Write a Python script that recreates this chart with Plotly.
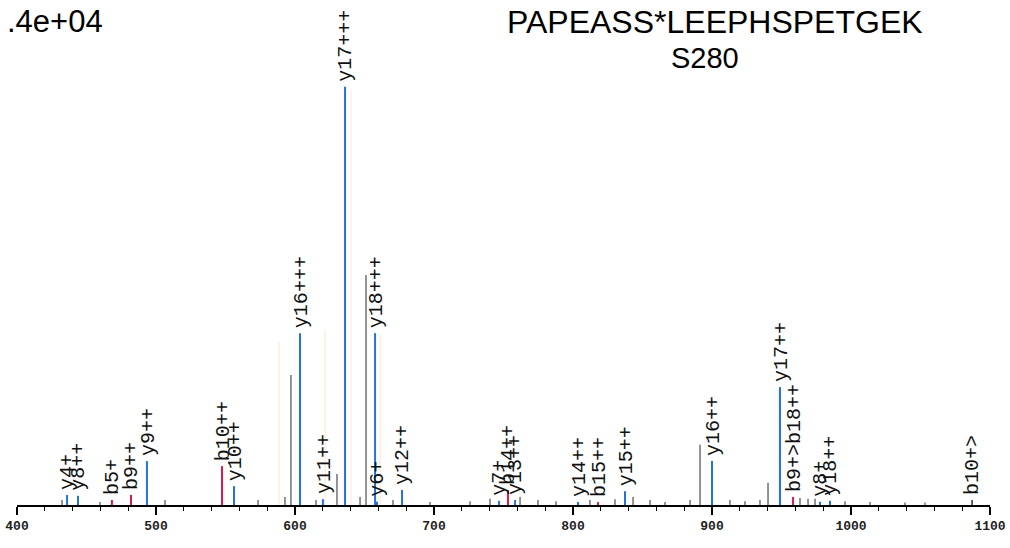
import plotly.graph_objects as go

# ---------------- data ----------------
# y-ions (blue)
y_mz = [436.0, 443.9, 493.5, 556.1, 603.6, 620.1, 636.0, 657.6, 659.0, 677.0,
        746.8, 758.3, 803.6, 837.4, 900.0, 948.9, 977.7, 984.9]
y_int = [2.4, 2.2, 10.5, 4.5, 41.1, 1.4, 100.0, 41.1, 0.8, 3.6,
         1.0, 1.2, 0.7, 3.3, 10.5, 28.2, 0.8, 1.0]
y_lab = ["y4+", "y8++", "y9++", "y10++", "y16+++", "y11++", "y17+++", "y18+++", "y6+", "y12++",
         "y7+", "y13++", "y14++", "y15++", "y16++", "y17++", "y8+", "y18++"]

# b-ions (red)
b_mz = [468.3, 482.0, 547.5, 753.2, 818.0, 958.3]
b_int = [1.2, 2.4, 9.3, 3.6, 0.7, 1.9]
b_lab = ["b5+", "b9++", "b10++", "b14++", "b15++", "b9+>b18++"]

# other labelled peak (dark)
o_mz = [1087.1]
o_int = [1.2]
o_lab = ["b10+>"]

# unassigned peaks (grey)
g_mz = [597.1, 630.2, 651.1, 891.4, 940.3,
        432.4, 459.7, 506.5, 573.4, 592.8, 615.1, 646.8, 670.5, 697.1, 725.9,
        740.3, 761.9, 774.8, 787.8, 812.2, 830.2, 843.2, 855.4, 866.2, 884.2,
        912.9, 923.7, 934.5, 963.3, 969.1, 974.1, 995.7, 1013.7, 1038.8, 1053.2]
g_int = [31.1, 7.4, 55.0, 14.4, 5.3,
         1.2, 0.7, 1.2, 1.2, 1.9, 1.2, 1.9, 1.2, 0.7, 0.9,
         1.5, 1.9, 1.2, 0.9, 1.2, 1.4, 1.9, 1.2, 0.7, 1.2,
         1.2, 0.9, 1.2, 1.7, 1.5, 1.5, 0.9, 0.7, 0.6, 0.6]

# faint neighbouring peaks (pale)
p_mz = [588.5, 621.6, 640.3, 661.2, 947.5]
p_int = [38.8, 41.9, 99.0, 40.7, 28.0]

scale_text = ".4e+04"
peptide = "PAPEASS*LEEPHSPETGEK"
site = "S280"
x_ticks = [400, 500, 600, 700, 800, 900, 1000, 1100]


def sticks(mz, inten):
    xs, ys = [], []
    for m, h in zip(mz, inten):
        xs += [m, m, None]
        ys += [0, h, None]
    return xs, ys


fig = go.Figure()

for mz, inten, color, width in [
    (p_mz, p_int, "#fdf0dc", 1.5),
    (g_mz, g_int, "#707070", 1.5),
    (o_mz, o_int, "#333333", 1.5),
    (y_mz, y_int, "#2472e0", 2),
    (b_mz, b_int, "#e0184a", 2),
]:
    xs, ys = sticks(mz, inten)
    fig.add_trace(go.Scatter(x=xs, y=ys, mode="lines",
                             line=dict(color=color, width=width),
                             hoverinfo="skip", showlegend=False, cliponaxis=False))

annos = []
for mz, inten, lab in [(y_mz, y_int, y_lab), (b_mz, b_int, b_lab), (o_mz, o_int, o_lab)]:
    for m, h, t in zip(mz, inten, lab):
        annos.append(dict(x=m, y=h, xref="x", yref="y", text=t, textangle=-90,
                          showarrow=False, xanchor="center", yanchor="bottom",
                          yshift=3, xshift=1,
                          font=dict(family="Liberation Mono", size=20, color="#111")))

annos.append(dict(x=-0.0125, y=1.05, xref="paper", yref="paper", text=scale_text,
                  showarrow=False, xanchor="left", yanchor="middle",
                  font=dict(family="Liberation Sans", size=31, color="#000")))
annos.append(dict(x=0.717, y=1.05, xref="paper", yref="paper", text=peptide,
                  showarrow=False, xanchor="center", yanchor="middle",
                  font=dict(family="Liberation Sans", size=32, color="#000")))
annos.append(dict(x=0.707, y=0.972, xref="paper", yref="paper", text=site,
                  showarrow=False, xanchor="center", yanchor="middle",
                  font=dict(family="Liberation Sans", size=29, color="#000")))

fig.update_layout(
    width=1010, height=548,
    margin=dict(l=17, r=20, t=45, b=43, autoexpand=False),
    paper_bgcolor="white", plot_bgcolor="white",
    annotations=annos,
    xaxis=dict(range=[400, 1100], showgrid=False, zeroline=False, automargin=False,
               showline=True, linecolor="#000", linewidth=1.5,
               ticks="outside", ticklen=8, tickwidth=1.5, tickcolor="#000",
               tickvals=x_ticks, ticktext=[str(v) for v in x_ticks],
               minor=dict(dtick=20, ticks="outside", ticklen=4, tickwidth=1.2, tickcolor="#000"),
               tickfont=dict(family="Liberation Mono", size=13, color="#222", weight="bold"),
               fixedrange=True),
    yaxis=dict(range=[0, 110], showgrid=False, zeroline=False, showline=False, automargin=False,
               showticklabels=False, ticks="", fixedrange=True),
)

fig.write_html("out.html", config={"displayModeBar": False},
               post_script="document.body.style.margin='0';document.body.style.overflow='hidden';")
